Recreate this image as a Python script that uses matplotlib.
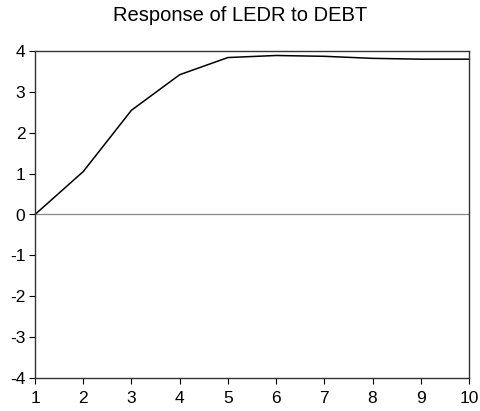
import matplotlib.pyplot as plt

periods = [1, 2, 3, 4, 5, 6, 7, 8, 9, 10]
response = [0.0, 1.05, 2.55, 3.42, 3.84, 3.89, 3.87, 3.82, 3.80, 3.80]
y_ticks = [-4, -3, -2, -1, 0, 1, 2, 3, 4]

plt.rcParams['font.family'] = ['Liberation Sans', 'DejaVu Sans']
plt.rcParams['axes.unicode_minus'] = False

fig = plt.figure(figsize=(4.81, 4.11), dpi=100)
ax = fig.add_axes([35 / 481, 33 / 411, 434 / 481, 327 / 411])

ax.plot(periods, response, color='black', lw=1.1)
ax.axhline(0, color='#888888', lw=0.9)

ax.set_xlim(1, 10)
ax.set_ylim(-4, 4)
ax.set_xticks(periods)
ax.set_yticks(y_ticks)
ax.tick_params(axis='both', direction='out', length=4, width=0.8, labelsize=12.5, colors='black')
ax.tick_params(axis='x', pad=5)
ax.tick_params(axis='y', pad=3)

for s in ax.spines.values():
    s.set_linewidth(1.0)
    s.set_color('#333333')

# title is centred on the figure, not on the axes
fig.text(0.5, 1 - 21 / 411, 'Response of LEDR to DEBT', fontsize=14.5,
         ha='center', va='baseline')

fig.savefig('out.png', dpi=100)
